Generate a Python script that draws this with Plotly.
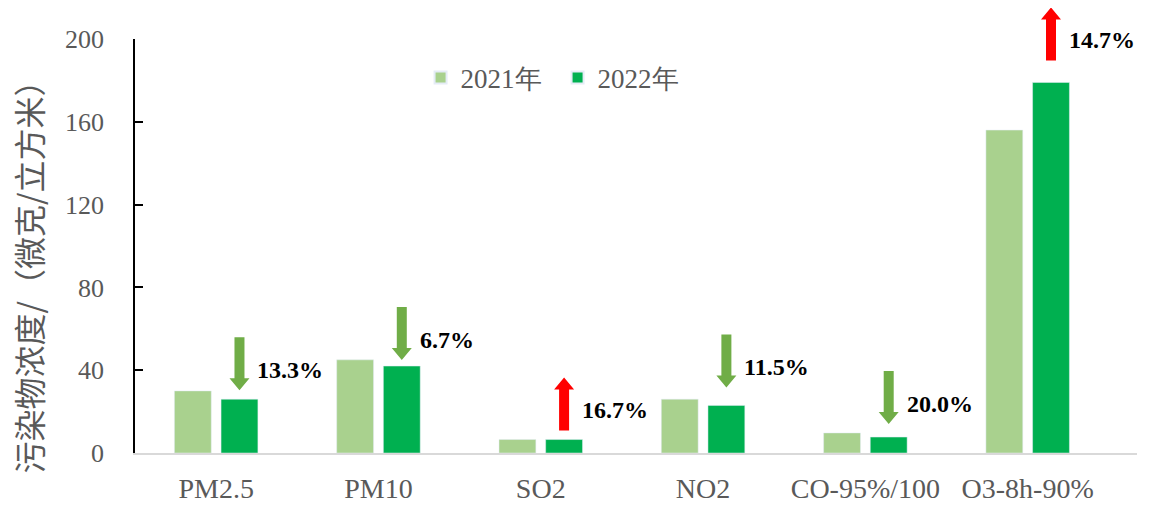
import plotly.graph_objects as go

categories = ["PM2.5", "PM10", "SO2", "NO2", "CO-95%/100", "O3-8h-90%"]
values_2021 = [30, 45, 6.5, 26, 9.7, 156]
values_2022 = [26, 42, 6.5, 23, 7.7, 179]
change_labels = ["13.3%", "6.7%", "16.7%", "11.5%", "20.0%", "14.7%"]
change_dir = ["down", "down", "up", "down", "down", "up"]
y_ticks = [0, 40, 80, 120, 160, 200]
Y_MAX = 200

# style
arrow_gap_px = [9, 6, 9, 18, 13, 22]
C21 = "#A9D18E"
C22 = "#00B050"
GREEN_ARROW = "#70AD47"
RED_ARROW = "#FF0000"
BARGAP = 0.425
BARGROUPGAP = 0.21
off22 = (1 - BARGAP) / 4  # center offset of 2nd bar in category units

fig = go.Figure()
fig.add_trace(go.Bar(x=categories, y=values_2021, name="2021年", marker_color=C21))
fig.add_trace(go.Bar(x=categories, y=values_2022, name="2022年", marker_color=C22))

L = 53   # arrow length px
HL = 12  # head length
HW = 10  # head half width
SW = 5   # shaft half width

shapes = []
annotations = []
for i, (v, lab, d, g) in enumerate(zip(values_2022, change_labels, change_dir, arrow_gap_px)):
    xa = i + off22
    if d == "down":
        path = f"M {-SW},{g+L} L {SW},{g+L} L {SW},{g+HL} L {HW},{g+HL} L 0,{g} L {-HW},{g+HL} L {-SW},{g+HL} Z"
        color = GREEN_ARROW
    else:
        path = f"M {-SW},{g} L {SW},{g} L {SW},{g+L-HL} L {HW},{g+L-HL} L 0,{g+L} L {-HW},{g+L-HL} L {-SW},{g+L-HL} Z"
        color = RED_ARROW
    center_off = g + L / 2
    shapes.append(dict(type="path", xref="x", yref="paper", xsizemode="pixel", ysizemode="pixel",
                       xanchor=xa, yanchor=v / Y_MAX, path=path, fillcolor=color, line=dict(width=0)))
    annotations.append(dict(x=xa, y=v, xref="x", yref="y", text=f"<b>{lab}</b>", showarrow=False,
                            xanchor="left", yanchor="middle", xshift=16, yshift=center_off - 6,
                            font=dict(family="Liberation Serif", size=24, color="#000000")))

annotations.append(dict(x=-0.107, y=0.445, xref="paper", yref="paper", text="污染物浓度/（微克/立方米）",
                        textangle=-90, showarrow=False, xanchor="center", yanchor="middle",
                        font=dict(family="Noto Sans CJK SC", size=32, color="#595959")))

fig.update_layout(
    width=1162, height=497,
    margin=dict(l=127, r=33, t=31, b=52, autoexpand=False),
    paper_bgcolor="white", plot_bgcolor="white",
    barmode="group", bargap=BARGAP, bargroupgap=BARGROUPGAP,
    showlegend=True,
    legend=dict(orientation="h", x=0.285, y=0.906, xanchor="left", yanchor="middle",
                font=dict(family="Liberation Serif", size=27, color="#595959"),
                entrywidth=92, entrywidthmode="pixels", bgcolor="rgba(0,0,0,0)",
                itemsizing="constant"),
    shapes=shapes,
    annotations=annotations,
)
fig.update_xaxes(type="category", showline=True, linecolor="#D9D9D9", linewidth=1.5,
                 ticks="", showgrid=False, zeroline=False, ticklabelstandoff=10, automargin=False,
                 tickfont=dict(family="Liberation Serif", size=28, color="#595959"))
fig.update_yaxes(range=[0, Y_MAX], tickvals=y_ticks, showline=True, linecolor="#000000", linewidth=1.5,
                 ticks="inside", ticklen=8, tickcolor="#000000", tickwidth=1.5, automargin=False,
                 showgrid=False, zeroline=False, ticklabelstandoff=24,
                 tickfont=dict(family="Liberation Serif", size=26, color="#595959"))

fig.write_html("out.html")
